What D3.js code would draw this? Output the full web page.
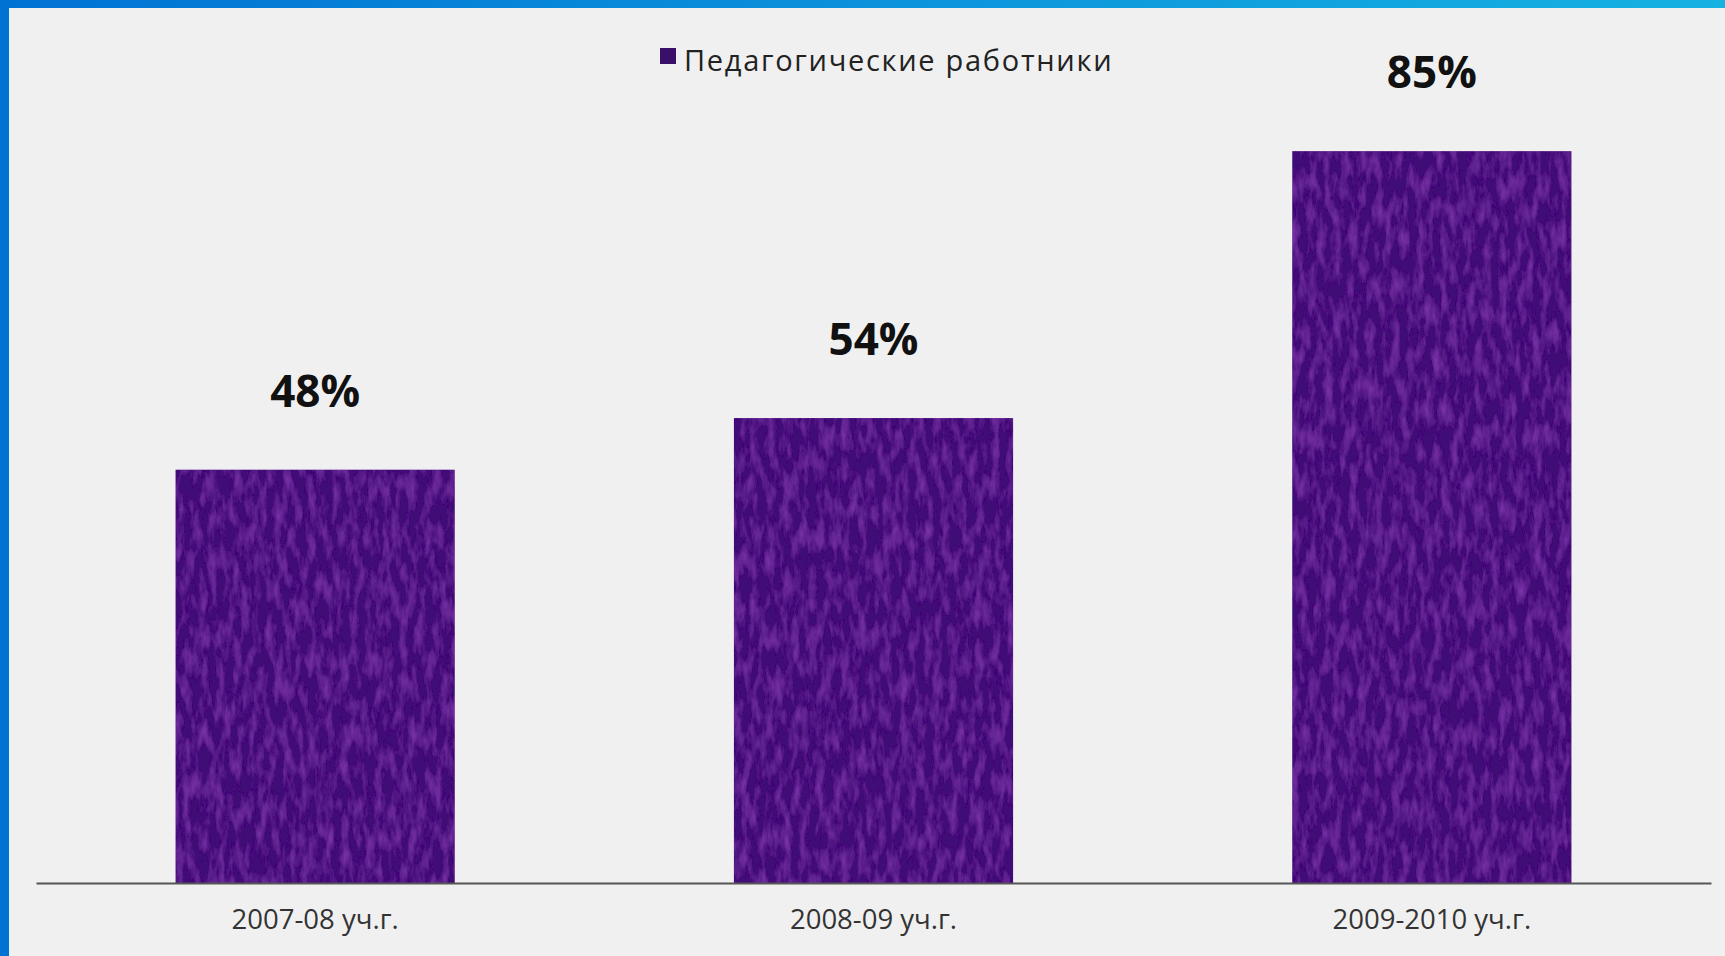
<!DOCTYPE html>
<html>
<head>
<meta charset="utf-8">
<script src="https://cdn.jsdelivr.net/npm/d3@7"></script>
<style>
  html, body { margin: 0; padding: 0; background: #f0f0f0; overflow: hidden; }
  svg { display: block; }
</style>
</head>
<body>
<svg id="chart" width="1725" height="956"></svg>
<script>
const categories = ["2007-08 уч.г.", "2008-09 уч.г.", "2009-2010 уч.г."];
const values = [48, 54, 85];
const valueLabels = ["48%", "54%", "85%"];
const seriesName = "Педагогические работники";

const W = 1725, H = 956;
const svg = d3.select("#chart");

// defs: frame gradient + bar texture
const defs = svg.append("defs");
const grad = defs.append("linearGradient").attr("id", "topGrad").attr("x1", "0").attr("x2", "1");
grad.append("stop").attr("offset", "0").attr("stop-color", "#0072d4");
grad.append("stop").attr("offset", "1").attr("stop-color", "#16b2e2");

const filt = defs.append("filter").attr("id", "texture").attr("x", "0").attr("y", "0").attr("width", "1").attr("height", "1");
filt.append("feTurbulence").attr("type", "fractalNoise").attr("baseFrequency", "0.12 0.04").attr("numOctaves", 4).attr("seed", 3).attr("result", "noise");
filt.append("feColorMatrix").attr("in", "noise").attr("type", "matrix")
  .attr("values", "0 0 0 0 0.36  0 0 0 0 0.07  0 0 0 0 0.64  0 0 0 0.9 -0.36").attr("result", "col");
filt.append("feComposite").attr("in", "col").attr("in2", "SourceGraphic").attr("operator", "in").attr("result", "tex");
filt.append("feMerge").selectAll("feMergeNode").data(["SourceGraphic", "tex"]).join("feMergeNode").attr("in", d => d);

// background
svg.append("rect").attr("width", W).attr("height", H).attr("fill", "#f0f0f0");

// scales
const x = d3.scaleBand().domain(categories).range([36, 1711]).paddingInner(0.5).paddingOuter(0.25);
const y = d3.scaleLinear().domain([0, 100]).range([883, 22]);

// bars
svg.append("g").selectAll("rect").data(values).join("rect")
  .attr("x", (d, i) => x(categories[i]))
  .attr("y", d => y(d))
  .attr("width", x.bandwidth())
  .attr("height", d => y(0) - y(d))
  .attr("fill", "#400d76")
  .attr("filter", "url(#texture)");

// axis
const axis = d3.axisBottom(x).tickSize(0).tickPadding(26);
const ax = svg.append("g").attr("transform", `translate(0,${y(0)})`).call(axis);
ax.select(".domain").attr("stroke", "#555").attr("stroke-width", 2);
ax.selectAll(".tick text")
  .attr("font-family", "'Open Sans', sans-serif")
  .attr("font-size", 27.5)
  .attr("fill", "#333");

// value labels
svg.append("g").selectAll("text").data(values).join("text")
  .attr("x", (d, i) => x(categories[i]) + x.bandwidth() / 2)
  .attr("y", d => y(d) - 63)
  .attr("text-anchor", "middle")
  .attr("font-family", "'Open Sans', sans-serif")
  .attr("font-weight", "bold")
  .attr("font-size", 44)
  .attr("fill", "#111")
  .text((d, i) => valueLabels[i]);

// legend
const lg = svg.append("g").attr("transform", "translate(660,48)");
lg.append("rect").attr("width", 16).attr("height", 16).attr("fill", "#3a0f6a");
lg.append("text").attr("x", 24).attr("y", 23)
  .attr("font-family", "'Open Sans', sans-serif")
  .attr("font-size", 29)
  .attr("letter-spacing", 1.7)
  .attr("fill", "#222")
  .text(seriesName);

// frame
svg.append("rect").attr("x", 0).attr("y", 0).attr("width", W).attr("height", 8).attr("fill", "url(#topGrad)");
svg.append("rect").attr("x", 0).attr("y", 0).attr("width", 9).attr("height", H).attr("fill", "#0072d4");
</script>
</body>
</html>
